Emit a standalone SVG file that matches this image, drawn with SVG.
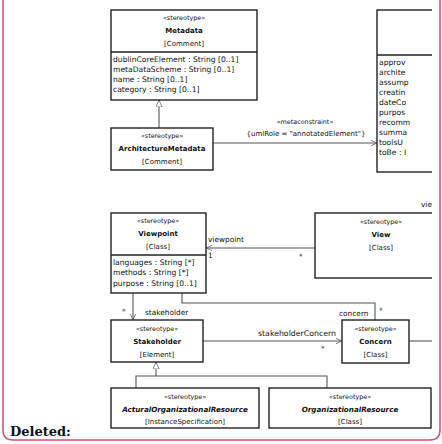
<svg xmlns="http://www.w3.org/2000/svg" width="442" height="444" viewBox="0 0 442 444">
  <style>
    .box { fill: #fff; stroke: #222; stroke-width: 1.4; }
    .div { stroke: #222; stroke-width: 1.3; }
    .con { fill: none; stroke: #555; stroke-width: 1.1; }
    text { font-family: "DejaVu Sans", "Liberation Sans", sans-serif; fill: #111; }
    .st { font-size: 6.4px; text-anchor: middle; }
    .nm { font-size: 7px; font-weight: bold; text-anchor: middle; }
    .ab { font-style: italic; font-size: 7.2px; }
    .mt { font-size: 7px; text-anchor: middle; }
    .at { font-size: 7.6px; }
    .lb { font-size: 7.4px; }
    .cn { font-size: 7px; text-anchor: middle; }
  </style>
  <defs>
    <marker id="open" viewBox="0 0 8 8" refX="8" refY="4" markerWidth="6" markerHeight="6" orient="auto" markerUnits="userSpaceOnUse">
      <path d="M0,0.5 L8,4 L0,7.5" fill="none" stroke="#555" stroke-width="1"/>
    </marker>
    <marker id="gen" viewBox="0 0 10 10" refX="10" refY="5" markerWidth="7" markerHeight="7" orient="auto" markerUnits="userSpaceOnUse">
      <path d="M0,0.5 L10,5 L0,9.5 Z" fill="#fff" stroke="#555" stroke-width="1"/>
    </marker>
    <clipPath id="page">
      <rect x="0" y="0" width="432" height="444"/>
    </clipPath>
  </defs>

  <rect width="442" height="444" fill="#fff"/>

  <g clip-path="url(#page)">
    <!-- connectors and their end labels -->
    <g id="connectors">
      <path class="con" d="M159,128 V100" marker-end="url(#gen)"/>
      <path class="con" d="M213,143 H377" marker-end="url(#open)"/>
      <path class="con" d="M315,248 H206" marker-end="url(#open)"/>
      <path class="con" d="M182,293 V303 H375 V320"/>
      <path class="con" d="M133,293 V320" marker-end="url(#open)"/>
      <path class="con" d="M203,341 H342" marker-end="url(#open)"/>
      <path class="con" d="M409,341 H440"/>
      <path class="con" d="M136,388 V376 H327 V388"/>
      <path class="con" d="M156,376 V362" marker-end="url(#gen)"/>
      <text class="st" x="305" y="124">«metaconstraint»</text>
      <text class="cn" x="306" y="136">{umlRole = "annotatedElement"}</text>
      <text class="lb" x="208" y="242">viewpoint</text>
      <text class="lb" x="208" y="258">1</text>
      <text class="lb" x="299" y="259">*</text>
      <text class="lb" x="421" y="207">vie</text>
      <text class="lb" x="122" y="314">*</text>
      <text class="lb" x="145" y="315">stakeholder</text>
      <text class="lb" x="339" y="316">concern</text>
      <text class="lb" x="379" y="313">*</text>
      <text class="lb" x="258" y="336" style="font-size: 7.8px">stakeholderConcern</text>
      <text class="lb" x="321" y="351">*</text>
    </g>

    <g id="metadata">
      <rect class="box" x="111" y="10" width="146" height="90"/>
      <line class="div" x1="111" y1="52" x2="257" y2="52"/>
      <text class="st" x="184" y="19.5">«stereotype»</text>
      <text class="nm" x="184" y="32.5">Metadata</text>
      <text class="mt" x="184" y="45.5">[Comment]</text>
      <text class="at" x="113" y="62">dublinCoreElement : String [0..1]</text>
      <text class="at" x="113" y="72">metaDataScheme : String [0..1]</text>
      <text class="at" x="113" y="82">name : String [0..1]</text>
      <text class="at" x="113" y="92">category : String [0..1]</text>
    </g>

    <g id="architecture-metadata">
      <rect class="box" x="111" y="128" width="102" height="42"/>
      <text class="st" x="162" y="137.5">«stereotype»</text>
      <text class="nm" x="162" y="150.5">ArchitectureMetadata</text>
      <text class="mt" x="162" y="163.5">[Comment]</text>
    </g>

    <g id="architecture-description">
      <rect class="box" x="377" y="10" width="80" height="162"/>
      <line class="div" x1="377" y1="55" x2="457" y2="55"/>
      <text class="at" x="379" y="65">approv</text>
      <text class="at" x="379" y="75">archite</text>
      <text class="at" x="379" y="85">assump</text>
      <text class="at" x="379" y="95">creatin</text>
      <text class="at" x="379" y="105">dateCo</text>
      <text class="at" x="379" y="115">purpos</text>
      <text class="at" x="379" y="125">recomm</text>
      <text class="at" x="379" y="135">summa</text>
      <text class="at" x="379" y="145">toolsU</text>
      <text class="at" x="379" y="155">toBe : I</text>
    </g>

    <g id="viewpoint">
      <rect class="box" x="111" y="213" width="95" height="80"/>
      <line class="div" x1="111" y1="255" x2="206" y2="255"/>
      <text class="st" x="158" y="222.5">«stereotype»</text>
      <text class="nm" x="158" y="235.5">Viewpoint</text>
      <text class="mt" x="158" y="248.5">[Class]</text>
      <text class="at" x="113" y="264.5">languages : String [*]</text>
      <text class="at" x="113" y="275">methods : String [*]</text>
      <text class="at" x="113" y="285.5">purpose : String [0..1]</text>
    </g>

    <g id="view">
      <rect class="box" x="315" y="213" width="140" height="65"/>
      <text class="st" x="381" y="223.5">«stereotype»</text>
      <text class="nm" x="381" y="236.5">View</text>
      <text class="mt" x="381" y="249.5">[Class]</text>
    </g>

    <g id="stakeholder">
      <rect class="box" x="111" y="320" width="92" height="42"/>
      <text class="st" x="157" y="330.5">«stereotype»</text>
      <text class="nm" x="157" y="343.5">Stakeholder</text>
      <text class="mt" x="157" y="356.5">[Element]</text>
    </g>

    <g id="concern">
      <rect class="box" x="342" y="320" width="67" height="43"/>
      <text class="st" x="375.5" y="331">«stereotype»</text>
      <text class="nm" x="375.5" y="344">Concern</text>
      <text class="mt" x="375.5" y="357">[Class]</text>
    </g>

    <g id="actual-organizational-resource">
      <rect class="box" x="111" y="388" width="148" height="40"/>
      <text class="st" x="185" y="398.5">«stereotype»</text>
      <text class="nm ab" x="185" y="411.5">ActuralOrganizationalResource</text>
      <text class="mt" x="185" y="424">[InstanceSpecification]</text>
    </g>

    <g id="organizational-resource">
      <rect class="box" x="269" y="388" width="162" height="40"/>
      <text class="st" x="350" y="398.5">«stereotype»</text>
      <text class="nm ab" x="350" y="411.5">OrganizationalResource</text>
      <text class="mt" x="350" y="424">[Class]</text>
    </g>
  </g>

  <!-- change-tracking balloon frame -->
  <g id="deleted-balloon">
    <path d="M3,-2 V430 Q3,440 13,440 H430 Q440,440 440,430 V-2" fill="none" stroke="#c9566f" stroke-width="1.5"/>
    <text x="10" y="436" style="font-family: 'DejaVu Serif', 'Liberation Serif', serif; font-size: 13px; font-weight: bold; fill: #111;">Deleted:</text>
  </g>
</svg>
